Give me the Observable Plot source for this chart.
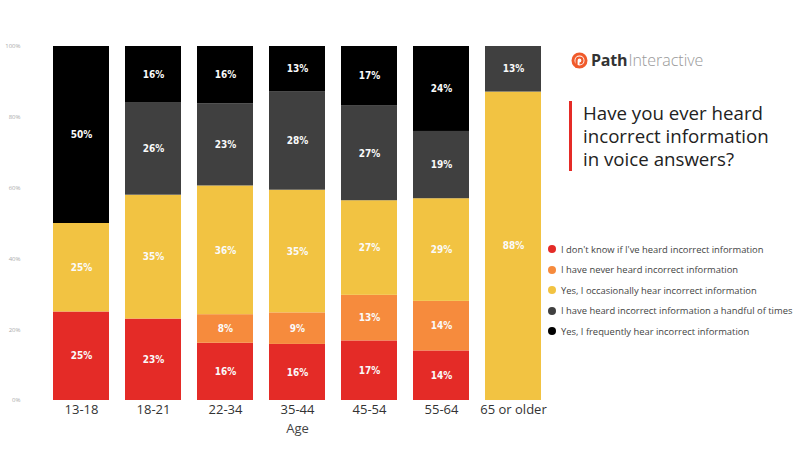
<!DOCTYPE html>
<html>
<head>
<meta charset="utf-8">
<script src="https://cdn.jsdelivr.net/npm/d3@7"></script>
<script src="https://cdn.jsdelivr.net/npm/@observablehq/plot@0.6"></script>
<style>
  body { margin: 0; background: #fff; }
  #wrap { position: relative; width: 800px; height: 450px; overflow: hidden; font-family: "Open Sans", sans-serif; }
  #chart { position: absolute; left: 0; top: 0; }
  .logo { position: absolute; left: 571px; top: 49px; display: flex; align-items: center; }
  .logo .p { font-size: 16px; font-weight: 700; color: #333; margin-left: 3px; letter-spacing: -0.2px; }
  .logo .i { font-size: 16px; font-weight: 300; color: #999; margin-left: 1px; }
  .title { position: absolute; left: 569px; top: 101px; border-left: 3px solid #e52b26; padding-left: 11px; font-size: 18.7px; line-height: 23.2px; color: #222; font-weight: 400; }
  .legend { position: absolute; left: 548px; top: 239px; font-size: 9.4px; color: #444; }
  .legend div { height: 20.5px; display: flex; align-items: center; white-space: nowrap; }
  .legend span.dot { width: 8px; height: 8px; border-radius: 50%; display: inline-block; margin-right: 5px; }
</style>
</head>
<body>
<div id="wrap">
  <div id="chart"></div>
  <div class="logo">
    <svg width="17" height="17" viewBox="0 0 17 17">
      <circle cx="8.5" cy="8.5" r="6.5" fill="none" stroke="#f05a2b" stroke-width="3"/>
      <path d="M5.5 16 L5.5 8.5 A3 3 0 1 1 8.5 11.5" fill="none" stroke="#f05a2b" stroke-width="2.2"/>
    </svg>
    <span class="p">Path</span><span class="i">Interactive</span>
  </div>
  <div class="title">Have you ever heard<br>incorrect information<br>in voice answers?</div>
  <div class="legend" id="legend"></div>
</div>
<script>
const ages = ["13-18", "18-21", "22-34", "35-44", "45-54", "55-64", "65 or older"];
const categories = [
  "I don't know if I've heard incorrect information",
  "I have never heard incorrect information",
  "Yes, I occasionally hear incorrect information",
  "I have heard incorrect information a handful of times",
  "Yes, I frequently hear incorrect information"
];
const colors = ["#e42b27", "#f68b3d", "#f2c342", "#404040", "#000000"];
const dontKnow     = [25, 23, 16, 16, 17, 14, 0];
const never        = [0, 0, 8, 9, 13, 14, 0];
const occasionally = [25, 35, 36, 35, 27, 29, 88];
const handful      = [0, 26, 23, 28, 27, 19, 13];
const frequently   = [50, 16, 16, 13, 17, 24, 0];
const yTicks = [0, 0.2, 0.4, 0.6, 0.8, 1];

const series = [dontKnow, never, occasionally, handful, frequently];
const data = [];
ages.forEach((age, i) => {
  series.forEach((vals, c) => {
    if (vals[i] > 0) data.push({age, cat: categories[c], value: vals[i]});
  });
});

const stackOpts = {x: "age", y: "value", z: "cat", order: categories, offset: "normalize"};

const chart = Plot.plot({
  width: 800,
  height: 450,
  marginTop: 46,
  marginBottom: 50,
  marginLeft: 45,
  marginRight: 251,
  x: {domain: ages, paddingInner: 0.22, paddingOuter: 0.11, label: null},
  y: {domain: [0, 1], label: null},
  color: {domain: categories, range: colors},
  style: {fontFamily: "Open Sans, sans-serif", background: "transparent"},
  marks: [
    Plot.barY(data, Plot.stackY({...stackOpts, fill: "cat"})),
    Plot.text(data, Plot.stackY({...stackOpts, text: d => d.value + "%", fill: "#fafafa", fontSize: 10, fontWeight: "bold", fontFamily: "DejaVu Sans Condensed, DejaVu Sans, sans-serif"})),
    Plot.axisY({ticks: yTicks, tickFormat: d3.format(".0%"), tickSize: 0, tickPadding: 25, fontSize: 6, color: "#aaa", label: null}),
    Plot.axisX({tickSize: 0, tickPadding: 4, fontSize: 13, color: "#333", label: null}),
    Plot.text(["Age"], {frameAnchor: "bottom", dy: 32, fontSize: 13, fill: "#444"})
  ]
});
document.getElementById("chart").appendChild(chart);

const leg = document.getElementById("legend");
categories.forEach((c, i) => {
  const row = document.createElement("div");
  const dot = document.createElement("span");
  dot.className = "dot";
  dot.style.background = colors[i];
  row.appendChild(dot);
  row.appendChild(document.createTextNode(c));
  leg.appendChild(row);
});
</script>
</body>
</html>
